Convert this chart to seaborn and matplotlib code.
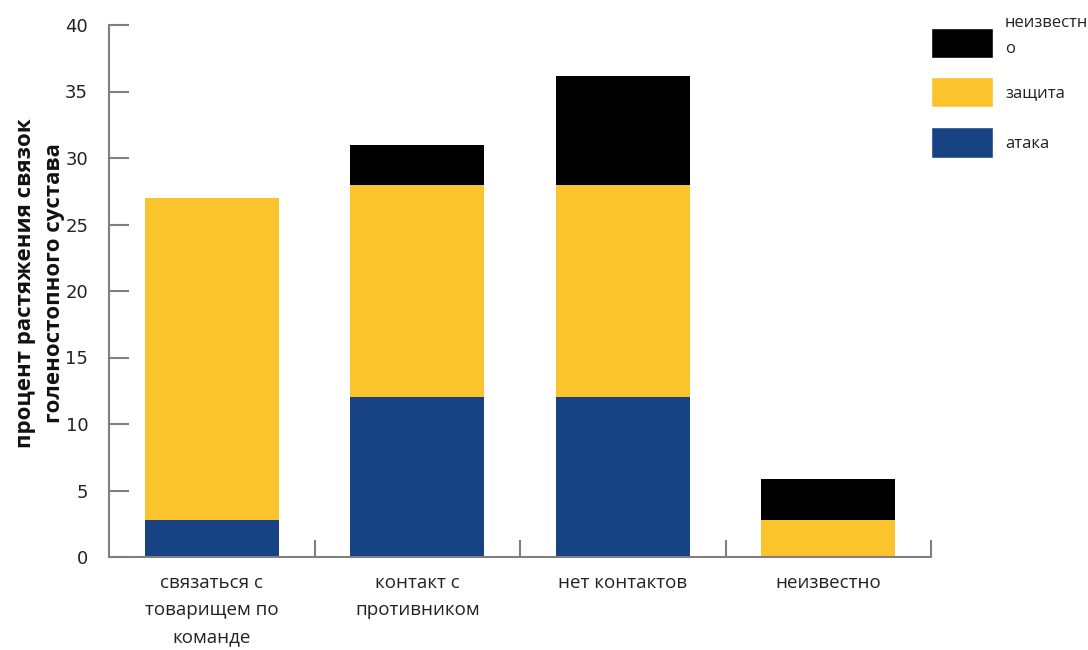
import matplotlib
matplotlib.use("Agg")
import matplotlib.pyplot as plt
import seaborn as sns
import numpy as np
import pandas as pd
from matplotlib.patches import Patch
from matplotlib.ticker import FixedLocator

categories = ["связаться с\nтоварищем по\nкоманде", "контакт с\nпротивником", "нет контактов", "неизвестно"]
attack = [2.8, 12.0, 12.0, 0.0]
defense = [24.2, 16.0, 16.0, 2.8]
unknown = [0.0, 3.0, 8.2, 3.1]
series_names = ["атака", "защита", "неизвестн\nо"]
yticks = [0, 5, 10, 15, 20, 25, 30, 35, 40]

c_attack = "#174284"
c_def = "#FBC42D"
c_unk = "#000000"
spine_c = "#808080"

sns.set_theme(style="white")
plt.rcParams['font.family'] = ['Open Sans', 'DejaVu Sans']

fig = plt.figure(figsize=(10.88, 6.5), dpi=100)
ax = fig.add_axes([109/1088, 1-557/650, (931-109)/1088, (557-25)/650])

a = np.array(attack); d = np.array(defense); u = np.array(unknown)
df = pd.DataFrame({"cat": categories, "s1": a, "s2": a + d, "s3": a + d + u})

sns.barplot(data=df, x="cat", y="s3", order=categories, color=c_unk, saturation=1, width=0.65, errorbar=None, ax=ax)
sns.barplot(data=df, x="cat", y="s2", order=categories, color=c_def, saturation=1, width=0.65, errorbar=None, ax=ax)
sns.barplot(data=df, x="cat", y="s1", order=categories, color=c_attack, saturation=1, width=0.65, errorbar=None, ax=ax)

for p in ax.patches:
    p.set_linewidth(0)

ax.set_xlim(-0.5, 3.5)
ax.set_ylim(0, 40)
ax.set_yticks(yticks)
ax.set_yticklabels([str(v) for v in yticks], family=['DejaVu Sans'], fontsize=13, color="#222222")
ax.set_xticks(range(len(categories)))
ax.set_xticklabels(categories, fontsize=13.5, color="#222222", linespacing=1.65)
ax.xaxis.set_minor_locator(FixedLocator([0.5, 1.5, 2.5, 3.5]))
ax.tick_params(axis='x', which='major', length=0, pad=12)
ax.tick_params(axis='x', which='minor', direction='in', length=12, width=1.5, color=spine_c, bottom=True)
ax.tick_params(axis='y', which='major', direction='in', length=14.5, width=1.5, color=spine_c, pad=15, left=True)

ax.set_xlabel("")
ax.set_ylabel("процент растяжения связок\nголеностопного сустава", fontsize=16, fontweight='bold',
              family=['Open Sans', 'DejaVu Sans'], linespacing=1.45, color="#111111")
ax.yaxis.set_label_coords(-0.054, 0.515)

for s in ["top", "right"]:
    ax.spines[s].set_visible(False)
for s in ["left", "bottom"]:
    ax.spines[s].set_color(spine_c)
    ax.spines[s].set_linewidth(1.5)

handles = [Patch(facecolor=c_unk, label=series_names[2]),
           Patch(facecolor=c_def, label=series_names[1]),
           Patch(facecolor=c_attack, label=series_names[0])]
leg = fig.legend(handles=handles, loc="upper left", bbox_to_anchor=(931/1088, 1-15/650), frameon=False,
                 fontsize=12, handlelength=3.72, handleheight=2.45, handletextpad=0.72, labelspacing=1.2,
                 borderpad=0, borderaxespad=0)
for t in leg.get_texts():
    t.set_linespacing(1.8)
    t.set_color("#222222")
first = leg.legend_handles[0]
first.set_y(first.get_y() - 4.5)

fig.savefig("out.png", dpi=100)
